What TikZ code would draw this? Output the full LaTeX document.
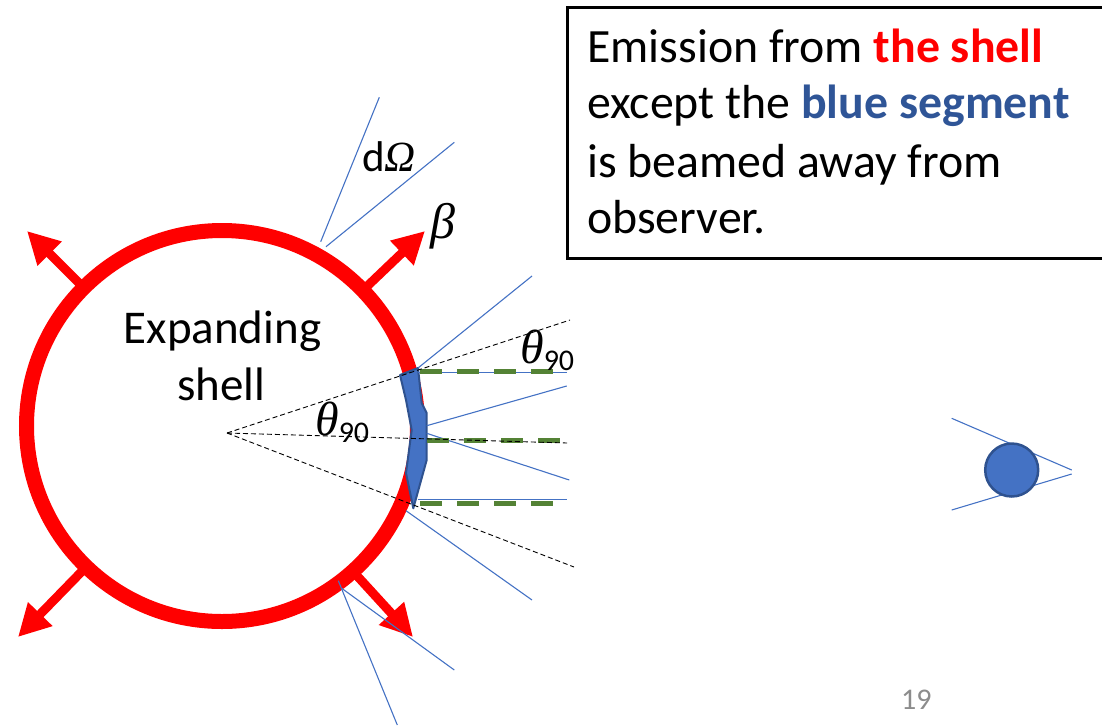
\documentclass[tikz,border=0pt]{standalone}
\usepackage{fontspec}
\setmainfont{Carlito}[Numbers=Lining]
\newfontfamily\grk{Liberation Serif}
\usetikzlibrary{arrows.meta}
\definecolor{shellred}{HTML}{FF0000}
\definecolor{segfill}{HTML}{4472C4}
\definecolor{segline}{HTML}{2F528F}
\definecolor{rayblue}{HTML}{4472C4}
\definecolor{beamgreen}{HTML}{548235}
\definecolor{textblue}{HTML}{2F5597}
\definecolor{pagegray}{HTML}{8C8C8C}
\newcommand{\thnine}{{\fontsize{48}{48}\selectfont\grk\itshape θ}\raisebox{-7pt}{\fontsize{30}{30}\selectfont 90}}
\begin{document}
\begin{tikzpicture}[x=1pt,y=-1pt,
  shell/.style={draw=shellred, line width=15pt},
  betaarrow/.style={draw=shellred, line width=9pt, -{Triangle[length=32pt,width=32pt]}},
  ray/.style={draw=rayblue, line width=1.1pt},
  guide/.style={draw=black, line width=0.9pt, dash pattern=on 5pt off 3pt},
  beam/.style={draw=beamgreen, line width=5pt, dash pattern=on 22pt off 15pt},
  seg/.style={fill=segfill, draw=segline, line width=2pt, line join=round},
  boxtext/.style={anchor=base west, inner sep=0pt, font=\fontsize{47.8}{57}\selectfont},
  shelltext/.style={anchor=base, inner sep=0pt, font=\fontsize{47}{57}\selectfont},
  lbl/.style={inner sep=0pt}
]
\useasboundingbox (0,0) rectangle (1102,726);

% text box
\draw[line width=3pt] (567,7) rectangle (1115,258);
\node[boxtext] (l1) at (587,62) {Emission from \textcolor{shellred}{\bfseries the shell}};
\node[boxtext] (l2) at (587,118) {except the \textcolor{textblue}{\bfseries blue segment}};
\node[boxtext] (l3) at (587,177) {is beamed away from};
\node[boxtext] (l4) at (587,233) {observer.};

% shell
\coordinate (C) at (222,426);
\draw[shell] (C) circle[radius=195.5pt];

% expansion arrows
\coordinate (a1s) at (88,292);  \coordinate (a1t) at (27,231);
\coordinate (a2s) at (359,294); \coordinate (a2t) at (425,231);
\coordinate (a3s) at (349,567); \coordinate (a3t) at (413,637);
\coordinate (a4s) at (90,563);  \coordinate (a4t) at (18,637);
\draw[betaarrow] (a1s) -- (a1t);
\draw[betaarrow] (a2s) -- (a2t);
\draw[betaarrow] (a3s) -- (a3t);
\draw[betaarrow] (a4s) -- (a4t);

% blue segment
\coordinate (s1) at (400,375);
\coordinate (s2) at (418,368);
\coordinate (s3) at (421.7,403);
\coordinate (s4) at (426.7,413);
\coordinate (s5) at (426.7,460);
\coordinate (s6) at (413.3,508.3);
\coordinate (s7) at (406,473);
\coordinate (s8) at (411.7,430);
\coordinate (s9) at (406,400);
\draw[seg] (s1) -- (s2) -- (s3) -- (s4) -- (s5) -- (s6) -- (s7) -- (s8) -- (s9) -- cycle;

% thin rays
\coordinate (d1s) at (320.7,241.7); \coordinate (d1e) at (379.3,97.3);
\coordinate (d2s) at (326,246.7);   \coordinate (d2e) at (454.3,142.3);
\draw[ray] (d1s) -- (d1e);
\draw[ray] (d2s) -- (d2e);
\coordinate (b1s) at (338.3,580.7); \coordinate (b1e) at (397.3,725);
\coordinate (b2s) at (341.7,588.3); \coordinate (b2e) at (454.3,670);
\draw[ray] (b1s) -- (b1e);
\draw[ray] (b2s) -- (b2e);
\coordinate (r1e) at (532,276);
\coordinate (h1s) at (418,372.7); \coordinate (h1e) at (567,372.7);
\coordinate (r2s) at (426.7,425.7); \coordinate (r2e) at (566.7,386);
\coordinate (r3s) at (426.7,433.3); \coordinate (r3e) at (569.3,480);
\coordinate (h2s) at (418,499.3); \coordinate (h2e) at (567,499.3);
\coordinate (r4s) at (406,510.7); \coordinate (r4e) at (532,600);
\draw[ray] (s2) -- (r1e);
\draw[ray] (h1s) -- (h1e);
\draw[ray] (r2s) -- (r2e);
\draw[ray] (r3s) -- (r3e);
\draw[ray] (h2s) -- (h2e);
\draw[ray] (r4s) -- (r4e);

% green beams
\coordinate (g1s) at (420,371);   \coordinate (g1e) at (554,371);
\coordinate (g2s) at (427,440.7); \coordinate (g2e) at (560,440.7);
\coordinate (g3s) at (420,503.3); \coordinate (g3e) at (554,503.3);
\draw[beam] (g1s) -- (g1e);
\draw[beam] (g2s) -- (g2e);
\draw[beam] (g3s) -- (g3e);

% black dashed guides
\coordinate (O) at (227,433);
\coordinate (k1) at (570,320);
\coordinate (k2) at (567,443);
\coordinate (k3) at (574,567);
\draw[guide] (O) -- (k1);
\draw[guide] (O) -- (k2);
\draw[guide] (O) -- (k3);

% labels
\node[shelltext] (exp) at (222.5,343) {Expanding};
\node[shelltext] (shl) at (221.5,400) {shell};
\node[lbl, anchor=base west] (th1) at (315,435) {\thnine};
\node[lbl, anchor=base west] (th2) at (520,363) {\thnine};
\node[lbl, anchor=base west] (dom) at (362,171) {\fontsize{43}{43}\selectfont d{\grk\itshape Ω}};
\node[lbl, anchor=base west] (bet) at (430,238) {\fontsize{50}{50}\selectfont\grk\itshape β};

% observer
\coordinate (e1s) at (951.7,418.3); \coordinate (e1e) at (1071.7,470);
\coordinate (e2s) at (951.7,510);   \coordinate (e2e) at (1071.7,474);
\draw[ray] (e1s) -- (e1e);
\draw[ray] (e2s) -- (e2e);
\node[circle, fill=segfill, draw=segline, line width=2.5pt, minimum size=53pt, inner sep=0pt] (eye) at (1011.7,470) {};

% page number
\node[lbl, anchor=base west, text=pagegray, font=\fontsize{30}{30}\selectfont] (pg) at (901,709) {19};
\end{tikzpicture}
\end{document}
